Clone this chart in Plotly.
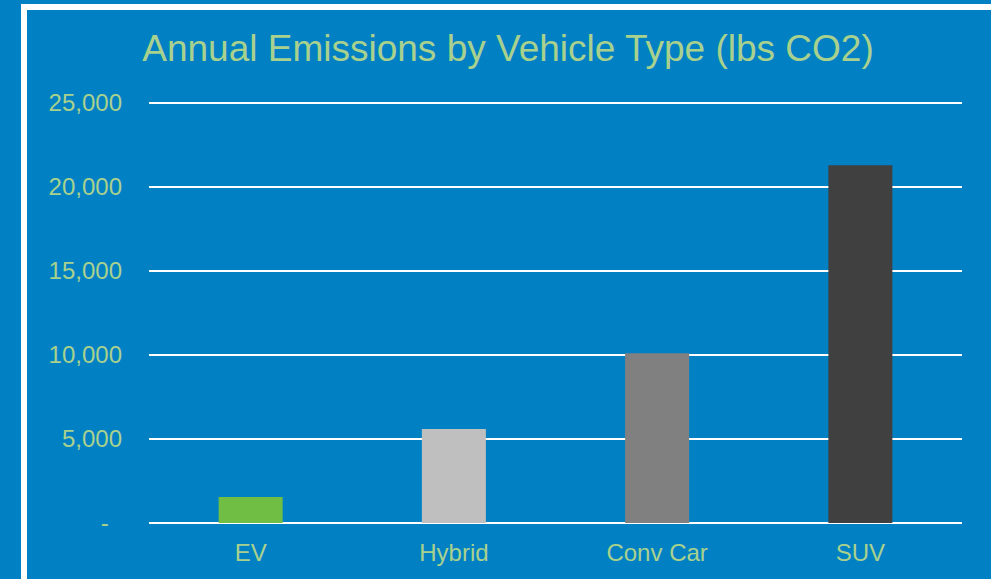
import plotly.graph_objects as go

categories = ["EV", "Hybrid", "Conv Car", "SUV"]
emissions = [1550, 5600, 10100, 21300]
bar_colors = ["#70BF44", "#BFBFBF", "#808080", "#404040"]
tick_vals = [0, 5000, 10000, 15000, 20000, 25000]
tick_text = ["-\u00a0\u00a0", "5,000", "10,000", "15,000", "20,000", "25,000"]

W, H = 991, 579
ML, MR, MT, MB = 149, 29, 98, 51
PW, PH = W - ML - MR, H - MT - MB
Y_RANGE = [-300, 25300]

def px_x(p):
    return (p - ML) / PW

def px_y(p):
    return (H - MB - p) / PH

BLUE = "#0181C4"
TXT = "#A9D18E"

fig = go.Figure(go.Bar(x=categories, y=emissions, marker_color=bar_colors,
                       marker_line_width=0, hoverinfo="skip"))

fig.update_layout(
    width=W, height=H,
    margin=dict(l=ML, r=MR, t=MT, b=MB),
    paper_bgcolor=BLUE, plot_bgcolor=BLUE,
    bargap=0.685,
    showlegend=False,
    font=dict(family="Liberation Sans, Arial, sans-serif", color=TXT, size=24),
    title=dict(text="Annual Emissions by Vehicle Type (lbs CO2)",
               font=dict(size=37, color=TXT),
               xref="container", yref="container",
               x=508 / W, xanchor="center",
               y=1 - 48 / H, yanchor="middle"),
    xaxis=dict(showgrid=False, zeroline=False, showline=False, ticks="",
               ticklabelstandoff=8, tickfont=dict(size=24)),
    yaxis=dict(range=Y_RANGE, tickvals=tick_vals, ticktext=tick_text,
               showgrid=True, gridcolor="#FFFFFF", gridwidth=2,
               zeroline=False, showline=False, ticks="",
               ticklabelstandoff=26, tickfont=dict(size=24)),
    shapes=[dict(type="rect", xref="paper", yref="paper",
                 x0=px_x(24), x1=px_x(1010), y0=px_y(7), y1=px_y(600),
                 line=dict(color="#FFFFFF", width=6), layer="below")],
)

fig.write_html("out.html", config={"displayModeBar": False},
               post_script="document.body.style.margin='0';document.body.style.overflow='hidden';")
